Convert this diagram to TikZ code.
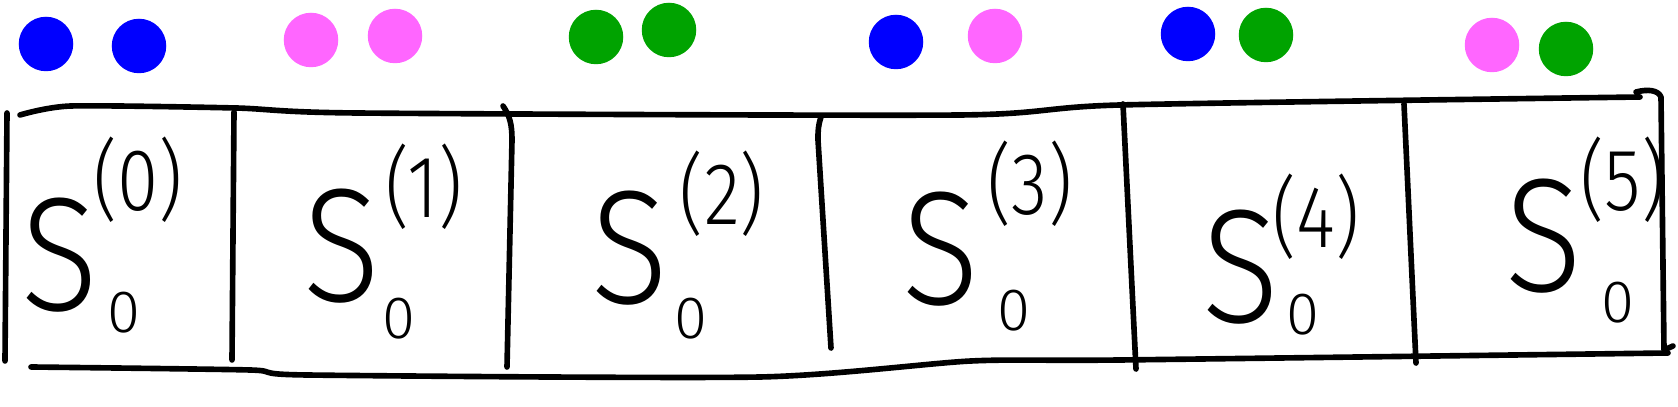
\documentclass[tikz,border=0pt]{standalone}
\usepackage{fontspec}
\usepackage{tikz}
\newfontfamily\handfont{Fira Sans Light}
\definecolor{dotblue}{RGB}{0,0,255}
\definecolor{dotpink}{RGB}{255,102,255}
\definecolor{dotgreen}{RGB}{0,163,0}

\begin{document}
\begin{tikzpicture}[x=0.01cm, y=-0.01cm, line width=1.6pt, line cap=round, line join=round,
		ball/.style={circle, inner sep=0pt, minimum size=15.5pt},
		bigS/.style={inner sep=0pt, xscale=0.88, font=\handfont\fontsize{46}{46}\selectfont},
		suplbl/.style={inner sep=0pt, xscale=0.85, font=\handfont\fontsize{25}{25}\selectfont},
		sublbl/.style={inner sep=0pt, font=\handfont\fontsize{17}{17}\selectfont}]
			\useasboundingbox (0,0) rectangle (1678,407);
			% coloured pairs
			\node[ball, fill=dotblue](b0a) at (46,44) {};
			\node[ball, fill=dotblue](b0b) at (139,46) {};
			\node[ball, fill=dotpink](b1a) at (311,40) {};
			\node[ball, fill=dotpink](b1b) at (395,36) {};
			\node[ball, fill=dotgreen](b2a) at (596,37) {};
			\node[ball, fill=dotgreen](b2b) at (669,30) {};
			\node[ball, fill=dotblue](b3a) at (896,42) {};
			\node[ball, fill=dotpink](b3b) at (995,36) {};
			\node[ball, fill=dotblue](b4a) at (1188,34) {};
			\node[ball, fill=dotgreen](b4b) at (1266,35) {};
			\node[ball, fill=dotpink](b5a) at (1492,45) {};
			\node[ball, fill=dotgreen](b5b) at (1566,49) {};
			% frame
			\draw plot[smooth, tension=0.4] coordinates {(20,115) (71,106) (236,108) (357,113) (960,115) (1120,105) (1640,97)};
			\draw plot[smooth, tension=0.4] coordinates {(31,367) (250,370) (307,375) (760,377) (971,361) (1120,360) (1668,353)};
			\draw (1636,92) .. controls (1648,89) and (1658,90) .. (1661,97) -- (1664,350) -- (1673,346);
			\draw (7,113) -- (5,361);
			\draw (234,112) -- (232,360);
			\draw (503,106) .. controls (510,116) and (512,125) .. (512,140) -- (507,367);
			\draw (821,117) .. controls (818,126) and (818,131) .. (818,140) -- (831,348);
			\draw (1123,104) -- (1136,369);
			\draw (1404,104) -- (1416,363);
			% cells
			\node[bigS](s0) at (60,255) {S};
			\node[suplbl](p0) at (138,180) {(0)};
			\node[sublbl](q0) at (124,313) {0};
			\node[bigS](s1) at (342,246) {S};
			\node[suplbl](p1) at (424,187) {(1)};
			\node[sublbl](q1) at (399,319) {0};
			\node[bigS](s2) at (630,248) {S};
			\node[suplbl](p2) at (722,194) {(2)};
			\node[sublbl](q2) at (691,319) {0};
			\node[bigS](s3) at (941,249) {S};
			\node[suplbl](p3) at (1030,184) {(3)};
			\node[sublbl](q3) at (1014,311) {0};
			\node[bigS](s4) at (1241,267) {S};
			\node[suplbl](p4) at (1316,217) {(4)};
			\node[sublbl](q4) at (1303,315) {0};
			\node[bigS](s5) at (1544,236) {S};
			\node[suplbl](p5) at (1623,180) {(5)};
			\node[sublbl](q5) at (1618,303) {0};
		\end{tikzpicture}
\end{document}
